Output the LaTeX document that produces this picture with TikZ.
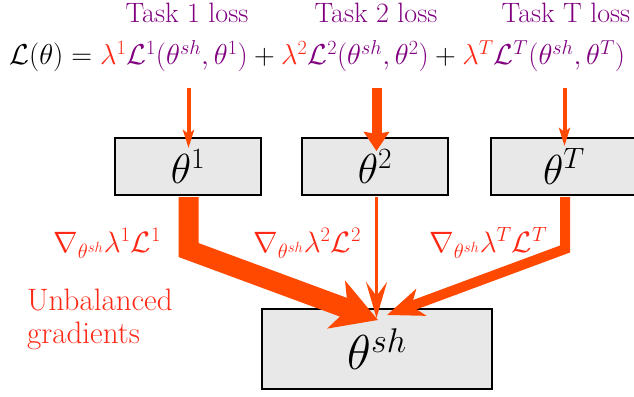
\RequirePackage{fix-cm}
\documentclass[tikz,border=0pt]{standalone}
\usepackage{amsmath}
\usetikzlibrary{arrows.meta}
\definecolor{arr}{RGB}{255,72,0}
\definecolor{lred}{RGB}{255,40,20}
\definecolor{tpurple}{RGB}{128,0,128}
\definecolor{boxgray}{RGB}{232,232,232}
\begin{document}
\begin{tikzpicture}[x=1pt,y=-1pt,
  parbox/.style={draw=black, line width=2pt, fill=boxgray, minimum width=146pt, minimum height=57pt, inner sep=0pt, font=\fontsize{42}{44}\selectfont},
  shbox/.style={draw=black, line width=2pt, fill=boxgray, minimum width=230pt, minimum height=80pt, inner sep=0pt, font=\fontsize{49}{50}\selectfont},
  tasklab/.style={text=tpurple, inner sep=0pt, font=\fontsize{28}{30}\selectfont},
  eqlab/.style={inner sep=0pt, font=\fontsize{28.8}{34}\selectfont},
  glab/.style={text=lred, inner sep=0pt, font=\fontsize{29.5}{33}\selectfont},
  ublab/.style={text=lred, inner sep=0pt, font=\fontsize{31}{33}\selectfont},
  flow/.style={draw=arr, line join=miter},
]
\useasboundingbox (0,0) rectangle (634,396);

% labels
\node[tasklab, anchor=base] (l1) at (187,23) {Task 1 loss};
\node[tasklab, anchor=base] (l2) at (376,23) {Task 2 loss};
\node[tasklab, anchor=base] (l3) at (566,23) {Task T loss};
\node[eqlab, anchor=base west] (eq) at (9,65) {$\mathcal{L}(\theta) = \textcolor{lred}{\lambda^1}\textcolor{tpurple}{\mathcal{L}^1(\theta^{sh},\theta^1)} + \textcolor{lred}{\lambda^2}\textcolor{tpurple}{\mathcal{L}^2(\theta^{sh},\theta^2)} + \textcolor{lred}{\lambda^T}\textcolor{tpurple}{\mathcal{L}^T(\theta^{sh},\theta^T)}$};

% boxes
\node[parbox] (t1) at (188,166.5) {$\theta^1$};
\node[parbox] (t2) at (375,166.5) {$\theta^2$};
\node[parbox] (tT) at (564,166.5) {$\theta^T$};
\node[shbox] (sh) at (377,349) {$\theta^{sh}$};

% top arrows
\coordinate (s1) at (188.5,88);
\coordinate (s2) at (376.5,88);
\coordinate (sT) at (564.5,88);
\coordinate (e1) at (188.5,148);
\coordinate (e2) at (376.5,151);
\coordinate (eT) at (564.5,146);
\draw[flow, line width=4pt, -{Stealth[length=18pt,width=11pt,inset=4pt]}] (s1) -- (e1);
\draw[flow, line width=10pt, -{Stealth[length=19pt,width=25pt,inset=2pt]}] (s2) -- (e2);
\draw[flow, line width=4pt, -{Stealth[length=18pt,width=11pt,inset=4pt]}] (sT) -- (eT);

% bottom arrows
\coordinate (b1) at (188.5,250);
\coordinate (bT) at (565,249);
\coordinate (f1) at (378,320);
\coordinate (f2) at (376.5,318);
\coordinate (fT) at (387,315);
\draw[flow, line width=20pt, -{Stealth[length=44pt,width=50pt,inset=12pt]}] ([yshift=-1pt]t1.south -| b1) -- (b1) -- (f1);
\draw[flow, line width=3.5pt, -{Stealth[length=36pt,width=21pt,inset=14pt]}] ([yshift=-1pt]t2.south -| f2) -- (f2);
\draw[flow, line width=10pt, -{Stealth[length=36pt,width=28pt,inset=10pt]}] ([yshift=-1pt]tT.south -| bT) -- (bT) -- (fT);

% gradient labels
\node[glab, anchor=base west] (g1) at (53,252) {$\nabla_{\theta^{sh}}\lambda^1\mathcal{L}^1$};
\node[glab, anchor=base west] (g2) at (253,252) {$\nabla_{\theta^{sh}}\lambda^2\mathcal{L}^2$};
\node[glab, anchor=base west] (gT) at (429,252) {$\nabla_{\theta^{sh}}\lambda^T\mathcal{L}^T$};
\node[ublab, anchor=base west, align=left] (ub) at (27,343) {Unbalanced\\gradients};
\end{tikzpicture}
\end{document}
